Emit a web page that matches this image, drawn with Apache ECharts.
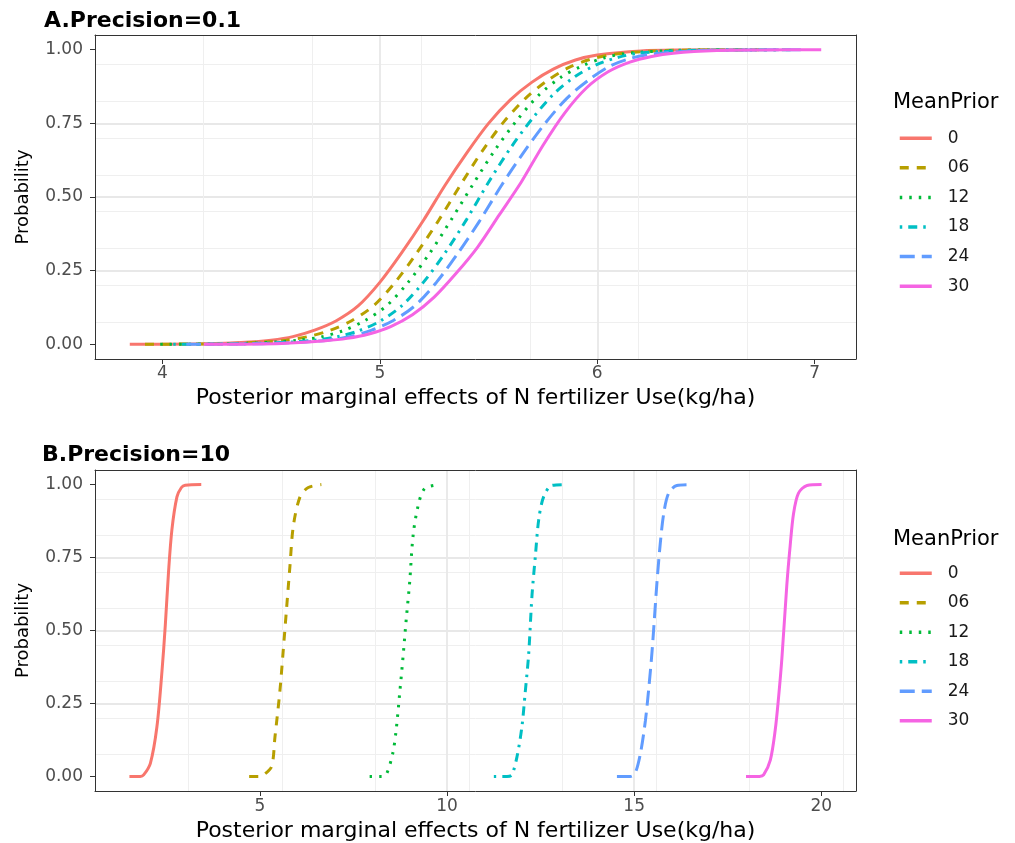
<!DOCTYPE html>
<html>
<head>
<meta charset="utf-8">
<script src="https://cdn.jsdelivr.net/npm/echarts@6/dist/echarts.min.js"></script>
<style>
html,body{margin:0;padding:0;background:#fff;}
#chart{width:1015px;height:843px;}
</style>
</head>
<body>
<div id="chart"></div>
<script>
// ---------- data ----------
const seriesNames = ['0', '06', '12', '18', '24', '30'];
const panelTitles = ['A.Precision=0.1', 'B.Precision=10'];
const legendTitle = 'MeanPrior';
const xAxisTitle = 'Posterior marginal effects of N fertilizer Use(kg/ha)';
const yAxisTitle = 'Probability';
const xTicksA = [4, 5, 6, 7];
const xTicksB = [5, 10, 15, 20];
const yTicks = [0, 0.25, 0.5, 0.75, 1];

// Panel A (Precision = 0.1): x values and cumulative probability for each MeanPrior
const aX0  = [3.85, 4.20, 4.40, 4.50, 4.60, 4.70, 4.80, 4.90, 5.00, 5.10, 5.20, 5.30, 5.40, 5.50, 5.60, 5.70, 5.80, 5.90, 6.00, 6.20, 6.40, 6.69];
const aP0  = [0, 0.002, 0.008, 0.014, 0.026, 0.048, 0.08, 0.13, 0.21, 0.31, 0.42, 0.54, 0.65, 0.75, 0.83, 0.89, 0.935, 0.965, 0.982, 0.996, 0.999, 1];
const aX06 = [3.92, 4.27, 4.47, 4.57, 4.67, 4.77, 4.87, 4.97, 5.07, 5.17, 5.27, 5.37, 5.47, 5.57, 5.67, 5.77, 5.87, 5.97, 6.07, 6.27, 6.47, 6.76];
const aP06 = [0, 0.002, 0.008, 0.014, 0.026, 0.047, 0.08, 0.13, 0.21, 0.31, 0.42, 0.54, 0.655, 0.755, 0.835, 0.895, 0.94, 0.968, 0.984, 0.996, 0.999, 1];
const aX12 = [3.99, 4.33, 4.53, 4.63, 4.73, 4.83, 4.93, 5.03, 5.13, 5.23, 5.33, 5.43, 5.53, 5.63, 5.73, 5.83, 5.93, 6.03, 6.13, 6.33, 6.53, 6.83];
const aP12 = [0, 0.002, 0.008, 0.014, 0.025, 0.046, 0.08, 0.13, 0.21, 0.31, 0.425, 0.545, 0.66, 0.76, 0.845, 0.905, 0.945, 0.972, 0.987, 0.997, 0.999, 1];
const aX18 = [4.05, 4.40, 4.60, 4.70, 4.80, 4.90, 5.00, 5.10, 5.20, 5.30, 5.40, 5.50, 5.60, 5.70, 5.80, 5.90, 6.00, 6.10, 6.20, 6.40, 6.60, 6.90];
const aP18 = [0, 0.002, 0.008, 0.014, 0.025, 0.045, 0.078, 0.13, 0.21, 0.31, 0.425, 0.55, 0.665, 0.765, 0.85, 0.91, 0.95, 0.975, 0.989, 0.997, 0.999, 1];
const aX24 = [4.11, 4.46, 4.66, 4.76, 4.86, 4.96, 5.06, 5.16, 5.26, 5.36, 5.46, 5.56, 5.66, 5.76, 5.86, 5.96, 6.06, 6.16, 6.26, 6.46, 6.66, 6.95];
const aP24 = [0, 0.002, 0.008, 0.014, 0.026, 0.047, 0.08, 0.13, 0.21, 0.31, 0.42, 0.54, 0.65, 0.75, 0.835, 0.897, 0.945, 0.972, 0.986, 0.997, 0.999, 1];
const aX30 = [4.19, 4.55, 4.75, 4.85, 4.95, 5.05, 5.15, 5.25, 5.35, 5.45, 5.55, 5.65, 5.75, 5.85, 5.95, 6.05, 6.15, 6.25, 6.35, 6.55, 6.75, 7.03];
const aP30 = [0, 0.003, 0.012, 0.02, 0.035, 0.06, 0.10, 0.16, 0.24, 0.33, 0.44, 0.55, 0.675, 0.785, 0.87, 0.925, 0.958, 0.977, 0.988, 0.997, 0.999, 1];

// Panel B (Precision = 10)
const bX0  = [1.51, 1.80, 1.89, 2.07, 2.245, 2.38, 2.47, 2.555, 2.645, 2.78, 2.90, 3.00, 3.43];
const bP0  = [0, 0, 0.005, 0.045, 0.17, 0.36, 0.52, 0.70, 0.845, 0.958, 0.99, 0.998, 1];
const bX06 = [4.71, 5.00, 5.09, 5.31, 5.40, 5.53, 5.62, 5.71, 5.80, 5.89, 6.07, 6.29, 6.64];
const bP06 = [0, 0, 0.004, 0.034, 0.135, 0.29, 0.43, 0.575, 0.72, 0.857, 0.958, 0.99, 1];
const bX12 = [7.93, 8.25, 8.38, 8.55, 8.64, 8.73, 8.82, 8.91, 9.00, 9.09, 9.22, 9.40, 9.80];
const bP12 = [0, 0, 0.008, 0.08, 0.16, 0.28, 0.405, 0.54, 0.665, 0.823, 0.924, 0.986, 1];
const bX18 = [11.25, 11.60, 11.73, 11.87, 12.00, 12.09, 12.18, 12.27, 12.36, 12.45, 12.58, 12.80, 13.20];
const bP18 = [0, 0, 0.005, 0.068, 0.17, 0.29, 0.417, 0.62, 0.755, 0.88, 0.958, 0.997, 1];
const bX24 = [14.54, 14.90, 15.03, 15.17, 15.30, 15.39, 15.48, 15.61, 15.70, 15.79, 15.92, 16.14, 16.52];
const bP24 = [0, 0, 0.012, 0.08, 0.19, 0.30, 0.43, 0.665, 0.80, 0.90, 0.97, 0.997, 1];
const bX30 = [17.99, 18.35, 18.46, 18.64, 18.77, 18.86, 18.95, 19.08, 19.17, 19.26, 19.39, 19.62, 20.01];
const bP30 = [0, 0, 0.005, 0.056, 0.158, 0.27, 0.406, 0.654, 0.79, 0.90, 0.97, 0.997, 1];

// ---------- styling ----------
const COLORS = ['#F8766D', '#B79F00', '#00BA38', '#00BFC4', '#619CFF', '#F564E3'];
const DASHES = ['solid', [9, 8], [2.5, 7], [2.5, 6, 9, 6], [15, 7], 'solid'];
const FONT = 'DejaVu Sans';
const LINE_W = 3;

const panelA = [[aX0, aP0], [aX06, aP06], [aX12, aP12], [aX18, aP18], [aX24, aP24], [aX30, aP30]];
const panelB = [[bX0, bP0], [bX06, bP06], [bX12, bP12], [bX18, bP18], [bX24, bP24], [bX30, bP30]];

function zip(xs, ys) { return xs.map((x, i) => [x, ys[i]]); }

const grids = [
  { left: 95, top: 35, width: 761, height: 324 },
  { left: 95, top: 470, width: 761, height: 323 }
];
const xRanges = [[3.69, 7.19], [0.59, 20.93]];
const xMajor = [xTicksA, xTicksB];
const xMajorInt = [1, 5];
const xMinorInt = [0.5, 2.5];
const xNameGap = [28, 29];
const xLabelMargin = [6, 7];

const majorGrid = { color: '#E8E8E8', width: 1.8 };
const minorGrid = { color: '#EFEFEF', width: 1 };

const xAxes = [], yAxes = [];
for (let g = 0; g < 2; g++) {
  // minor (drawn first), positioned top -> provides top border
  xAxes.push({
    type: 'value', gridIndex: g, position: 'top', min: xRanges[g][0], max: xRanges[g][1],
    interval: xMinorInt[g],
    axisLine: { show: true, onZero: false, lineStyle: { color: '#333333', width: 1 } },
    axisTick: { show: false }, axisLabel: { show: false },
    splitLine: { show: true, showMinLine: false, showMaxLine: false, lineStyle: minorGrid }
  });
  xAxes.push({
    type: 'value', gridIndex: g, position: 'bottom', min: xRanges[g][0], max: xRanges[g][1],
    interval: xMajorInt[g],
    name: xAxisTitle, nameLocation: 'middle', nameGap: xNameGap[g],
    nameTextStyle: { fontFamily: FONT, fontSize: 22, color: '#000' },
    axisLine: { show: true, onZero: false, lineStyle: { color: '#333333', width: 1 } },
    axisTick: { show: true, length: 5, customValues: xMajor[g], lineStyle: { color: '#333333', width: 1 } },
    axisLabel: { show: true, customValues: xMajor[g], margin: xLabelMargin[g], fontFamily: FONT, fontSize: 17, color: '#4D4D4D',
      formatter: v => String(v) },
    splitLine: { show: true, showMinLine: false, showMaxLine: false, lineStyle: majorGrid }
  });
  yAxes.push({
    type: 'value', gridIndex: g, position: 'right', min: -0.05, max: 1.05, interval: 0.125,
    axisLine: { show: true, onZero: false, lineStyle: { color: '#333333', width: 1 } },
    axisTick: { show: false }, axisLabel: { show: false },
    splitLine: { show: true, showMinLine: false, showMaxLine: false, lineStyle: minorGrid }
  });
  yAxes.push({
    type: 'value', gridIndex: g, position: 'left', min: -0.05, max: 1.05, interval: 0.25,
    name: yAxisTitle, nameLocation: 'middle', nameGap: 63, nameRotate: 90,
    nameTextStyle: { fontFamily: FONT, fontSize: 18, color: '#000' },
    axisLine: { show: true, onZero: false, lineStyle: { color: '#333333', width: 1 } },
    axisTick: { show: true, length: 5, customValues: yTicks, lineStyle: { color: '#333333', width: 1 } },
    axisLabel: { show: true, customValues: yTicks, margin: 12, fontFamily: FONT, fontSize: 17, color: '#4D4D4D',
      formatter: v => Number(v).toFixed(2) },
    splitLine: { show: true, showMinLine: false, showMaxLine: false, lineStyle: majorGrid }
  });
}

const series = [];
[panelA, panelB].forEach((panel, g) => {
  panel.forEach((pair, i) => {
    series.push({
      type: 'line', name: seriesNames[i],
      xAxisIndex: g * 2 + 1, yAxisIndex: g * 2 + 1,
      data: zip(pair[0], pair[1]),
      smooth: 0.3,
      symbol: 'none', showSymbol: false,
      color: COLORS[i],
      lineStyle: { color: COLORS[i], width: LINE_W, type: DASHES[i], cap: 'butt' },
      emphasis: { disabled: true },
      animation: false,
      z: 2 + i
    });
  });
});

const legendBase = {
  orient: 'vertical', left: 898, padding: 0, itemWidth: 32, itemHeight: 14,
  data: seriesNames,
  itemStyle: { opacity: 0 },
  lineStyle: { width: 3.5 },
  textStyle: { fontFamily: FONT, fontSize: 17, color: '#1A1A1A', padding: [0, 0, 0, 11] },
  selectedMode: false
};

const option = {
  animation: false,
  backgroundColor: '#ffffff',
  title: [
    { text: panelTitles[0], left: 44, top: 8, padding: 0,
      textStyle: { fontFamily: FONT, fontSize: 22, fontWeight: 'bold', color: '#000', lineHeight: 26 } },
    { text: panelTitles[1], left: 42, top: 442, padding: 0,
      textStyle: { fontFamily: FONT, fontSize: 22, fontWeight: 'bold', color: '#000', lineHeight: 26 } },
    { text: legendTitle, left: 893, top: 91, padding: 0,
      textStyle: { fontFamily: FONT, fontSize: 21, fontWeight: 'normal', color: '#000', lineHeight: 24 } },
    { text: legendTitle, left: 893, top: 528, padding: 0,
      textStyle: { fontFamily: FONT, fontSize: 21, fontWeight: 'normal', color: '#000', lineHeight: 24 } }
  ],
  legend: [
    Object.assign({}, legendBase, { top: 129.7, itemGap: 12.6 }),
    Object.assign({}, legendBase, { top: 564.7, itemGap: 12.5 })
  ],
  grid: grids.map(g => Object.assign({ show: false, containLabel: false }, g)),
  xAxis: xAxes,
  yAxis: yAxes,
  series: series
};

const chart = echarts.init(document.getElementById('chart'), null, { renderer: 'canvas' });
chart.setOption(option);
</script>
</body>
</html>
